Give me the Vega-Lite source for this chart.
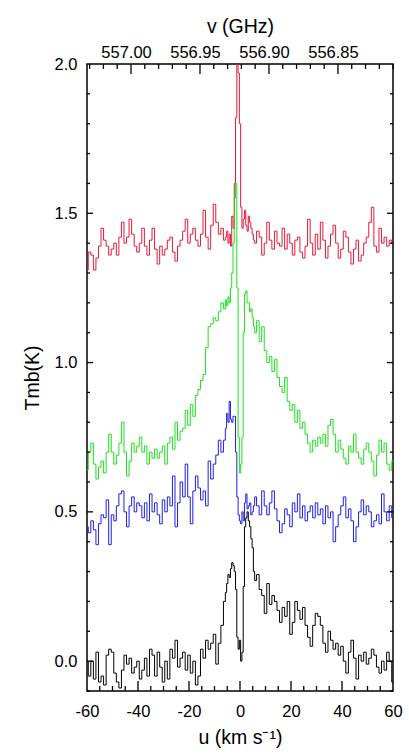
{
"$schema":"https://vega.github.io/schema/vega-lite/v6.json",
"width":306,"height":627,
"autosize":{"type":"none"},
"padding":{"left":87,"top":64,"right":16,"bottom":64},
"background":"white",
"config":{"view":{"stroke":"black","strokeWidth":1.5},
"axis":{"labelFont":"Liberation Sans","titleFont":"Liberation Sans","labelFontSize":16.5,"titleFontSize":19.5,"titleFontWeight":"normal","labelColor":"black","titleColor":"black","ticks":false,"domain":false,"grid":false,"labelFlush":false,"labelOverlap":false}},
"datasets":{
"spec":[
{"v":-60,"r":1.31,"g":0.64,"b":0.45,"k":0.00},
{"v":-59,"r":1.37,"g":0.70,"b":0.43,"k":-0.05},
{"v":-58,"r":1.36,"g":0.73,"b":0.47,"k":0.00},
{"v":-57,"r":1.31,"g":0.66,"b":0.44,"k":-0.06},
{"v":-56,"r":1.35,"g":0.61,"b":0.39,"k":0.03},
{"v":-55,"r":1.39,"g":0.65,"b":0.46,"k":-0.07},
{"v":-54,"r":1.45,"g":0.67,"b":0.49,"k":-0.05},
{"v":-53,"r":1.41,"g":0.63,"b":0.48,"k":-0.08},
{"v":-52,"r":1.39,"g":0.70,"b":0.54,"k":0.02},
{"v":-51,"r":1.36,"g":0.76,"b":0.39,"k":0.04},
{"v":-50,"r":1.38,"g":0.70,"b":0.49,"k":0.03},
{"v":-49,"r":1.40,"g":0.66,"b":0.47,"k":-0.04},
{"v":-48,"r":1.36,"g":0.69,"b":0.52,"k":-0.07},
{"v":-47,"r":1.42,"g":0.73,"b":0.56,"k":-0.09},
{"v":-46,"r":1.47,"g":0.80,"b":0.57,"k":-0.03},
{"v":-45,"r":1.40,"g":0.70,"b":0.50,"k":0.02},
{"v":-44,"r":1.42,"g":0.62,"b":0.45,"k":-0.01},
{"v":-43,"r":1.48,"g":0.67,"b":0.52,"k":0.01},
{"v":-42,"r":1.43,"g":0.73,"b":0.55,"k":-0.04},
{"v":-41,"r":1.39,"g":0.70,"b":0.50,"k":-0.02},
{"v":-40,"r":1.37,"g":0.72,"b":0.53,"k":0.00},
{"v":-39,"r":1.40,"g":0.75,"b":0.52,"k":-0.06},
{"v":-38,"r":1.45,"g":0.70,"b":0.48,"k":-0.03},
{"v":-37,"r":1.39,"g":0.72,"b":0.53,"k":0.01},
{"v":-36,"r":1.36,"g":0.66,"b":0.47,"k":-0.05},
{"v":-35,"r":1.41,"g":0.70,"b":0.56,"k":0.04},
{"v":-34,"r":1.45,"g":0.68,"b":0.50,"k":0.02},
{"v":-33,"r":1.38,"g":0.71,"b":0.53,"k":-0.05},
{"v":-32,"r":1.33,"g":0.68,"b":0.49,"k":0.03},
{"v":-31,"r":1.39,"g":0.70,"b":0.46,"k":-0.02},
{"v":-30,"r":1.36,"g":0.72,"b":0.54,"k":-0.07},
{"v":-29,"r":1.38,"g":0.66,"b":0.50,"k":0.00},
{"v":-28,"r":1.41,"g":0.73,"b":0.55,"k":-0.06},
{"v":-27,"r":1.42,"g":0.75,"b":0.52,"k":0.04},
{"v":-26,"r":1.37,"g":0.71,"b":0.62,"k":0.01},
{"v":-25,"r":1.34,"g":0.80,"b":0.45,"k":0.07},
{"v":-24,"r":1.39,"g":0.74,"b":0.53,"k":-0.02},
{"v":-23,"r":1.41,"g":0.77,"b":0.60,"k":0.01},
{"v":-22,"r":1.44,"g":0.78,"b":0.55,"k":0.03},
{"v":-21,"r":1.48,"g":0.84,"b":0.66,"k":-0.03},
{"v":-20,"r":1.40,"g":0.79,"b":0.55,"k":0.02},
{"v":-19,"r":1.43,"g":0.86,"b":0.46,"k":-0.04},
{"v":-18,"r":1.45,"g":0.82,"b":0.57,"k":0.00},
{"v":-17,"r":1.41,"g":0.89,"b":0.62,"k":-0.08},
{"v":-16,"r":1.39,"g":0.91,"b":0.58,"k":-0.05},
{"v":-15,"r":1.43,"g":0.94,"b":0.54,"k":0.04},
{"v":-14,"r":1.51,"g":0.96,"b":0.57,"k":0.01},
{"v":-13,"r":1.42,"g":1.05,"b":0.52,"k":0.07},
{"v":-12,"r":1.38,"g":1.12,"b":0.67,"k":0.04},
{"v":-11,"r":1.46,"g":1.13,"b":0.61,"k":0.06},
{"v":-10,"r":1.53,"g":1.15,"b":0.66,"k":0.09},
{"v":-9,"r":1.47,"g":1.14,"b":0.69,"k":-0.01},
{"v":-8,"r":1.43,"g":1.17,"b":0.74,"k":0.06},
{"v":-7,"r":1.45,"g":1.20,"b":0.70,"k":0.12},
{"v":-6,"r":1.41,"g":1.18,"b":0.74,"k":0.20},
{"v":-5.5,"r":1.42,"g":1.21,"b":0.78,"k":0.23},
{"v":-5,"r":1.44,"g":1.19,"b":0.83,"k":0.26},
{"v":-4.5,"r":1.40,"g":1.22,"b":0.80,"k":0.29},
{"v":-4,"r":1.43,"g":1.20,"b":0.87,"k":0.28},
{"v":-3.5,"r":1.39,"g":1.25,"b":0.81,"k":0.31},
{"v":-3,"r":1.49,"g":1.30,"b":0.80,"k":0.33},
{"v":-2.5,"r":1.45,"g":1.40,"b":0.82,"k":0.32},
{"v":-2,"r":1.60,"g":1.55,"b":0.82,"k":0.30},
{"v":-1.5,"r":1.82,"g":1.60,"b":0.70,"k":0.24},
{"v":-1,"r":2.00,"g":1.25,"b":0.55,"k":0.08},
{"v":-0.5,"r":1.97,"g":0.75,"b":0.49,"k":0.04},
{"v":0,"r":1.80,"g":0.63,"b":0.47,"k":0.07},
{"v":0.5,"r":1.52,"g":0.66,"b":0.46,"k":0.00},
{"v":1,"r":1.45,"g":0.75,"b":0.50,"k":0.03},
{"v":1.5,"r":1.48,"g":1.10,"b":0.47,"k":0.25},
{"v":2,"r":1.51,"g":1.23,"b":0.53,"k":0.45},
{"v":2.5,"r":1.46,"g":1.24,"b":0.56,"k":0.48},
{"v":3,"r":1.44,"g":1.20,"b":0.51,"k":0.50},
{"v":3.5,"r":1.49,"g":1.20,"b":0.52,"k":0.47},
{"v":4,"r":1.47,"g":1.17,"b":0.53,"k":0.45},
{"v":4.5,"r":1.45,"g":1.18,"b":0.49,"k":0.41},
{"v":5,"r":1.43,"g":1.15,"b":0.50,"k":0.38},
{"v":5.5,"r":1.41,"g":1.12,"b":0.52,"k":0.30},
{"v":6,"r":1.40,"g":1.10,"b":0.55,"k":0.27},
{"v":7,"r":1.44,"g":1.14,"b":0.52,"k":0.29},
{"v":8,"r":1.42,"g":1.07,"b":0.49,"k":0.24},
{"v":9,"r":1.36,"g":1.12,"b":0.57,"k":0.22},
{"v":10,"r":1.40,"g":1.04,"b":0.52,"k":0.16},
{"v":11,"r":1.47,"g":1.00,"b":0.49,"k":0.26},
{"v":12,"r":1.41,"g":1.02,"b":0.53,"k":0.19},
{"v":13,"r":1.38,"g":0.97,"b":0.57,"k":0.22},
{"v":14,"r":1.44,"g":1.01,"b":0.51,"k":0.20},
{"v":15,"r":1.40,"g":0.95,"b":0.47,"k":0.17},
{"v":16,"r":1.39,"g":0.92,"b":0.43,"k":0.13},
{"v":17,"r":1.45,"g":0.90,"b":0.46,"k":0.18},
{"v":18,"r":1.38,"g":0.95,"b":0.51,"k":0.15},
{"v":19,"r":1.43,"g":0.87,"b":0.49,"k":0.20},
{"v":20,"r":1.40,"g":0.84,"b":0.45,"k":0.09},
{"v":21,"r":1.36,"g":0.86,"b":0.53,"k":0.13},
{"v":22,"r":1.41,"g":0.80,"b":0.50,"k":0.20},
{"v":23,"r":1.42,"g":0.84,"b":0.56,"k":0.17},
{"v":24,"r":1.37,"g":0.78,"b":0.48,"k":0.14},
{"v":25,"r":1.35,"g":0.80,"b":0.52,"k":0.18},
{"v":26,"r":1.39,"g":0.76,"b":0.47,"k":0.12},
{"v":27,"r":1.48,"g":0.73,"b":0.50,"k":0.08},
{"v":28,"r":1.40,"g":0.70,"b":0.52,"k":0.05},
{"v":29,"r":1.36,"g":0.74,"b":0.48,"k":0.12},
{"v":30,"r":1.43,"g":0.72,"b":0.53,"k":0.16},
{"v":31,"r":1.38,"g":0.75,"b":0.49,"k":0.15},
{"v":32,"r":1.47,"g":0.73,"b":0.51,"k":0.12},
{"v":33,"r":1.41,"g":0.76,"b":0.46,"k":0.06},
{"v":34,"r":1.35,"g":0.72,"b":0.52,"k":0.03},
{"v":35,"r":1.39,"g":0.79,"b":0.48,"k":0.10},
{"v":36,"r":1.43,"g":0.81,"b":0.50,"k":0.07},
{"v":37,"r":1.46,"g":0.76,"b":0.40,"k":0.04},
{"v":38,"r":1.40,"g":0.70,"b":0.45,"k":0.06},
{"v":39,"r":1.35,"g":0.74,"b":0.49,"k":0.02},
{"v":40,"r":1.38,"g":0.71,"b":0.52,"k":0.05},
{"v":41,"r":1.44,"g":0.68,"b":0.55,"k":0.00},
{"v":42,"r":1.42,"g":0.66,"b":0.48,"k":-0.04},
{"v":43,"r":1.37,"g":0.72,"b":0.51,"k":0.03},
{"v":44,"r":1.33,"g":0.70,"b":0.47,"k":0.07},
{"v":45,"r":1.38,"g":0.76,"b":0.40,"k":0.01},
{"v":46,"r":1.41,"g":0.70,"b":0.45,"k":-0.06},
{"v":47,"r":1.34,"g":0.68,"b":0.50,"k":0.02},
{"v":48,"r":1.36,"g":0.66,"b":0.54,"k":0.00},
{"v":49,"r":1.40,"g":0.71,"b":0.49,"k":0.03},
{"v":50,"r":1.42,"g":0.73,"b":0.52,"k":-0.01},
{"v":51,"r":1.47,"g":0.70,"b":0.50,"k":0.01},
{"v":52,"r":1.52,"g":0.67,"b":0.45,"k":0.04},
{"v":53,"r":1.39,"g":0.62,"b":0.47,"k":0.02},
{"v":54,"r":1.37,"g":0.69,"b":0.49,"k":-0.02},
{"v":55,"r":1.45,"g":0.74,"b":0.46,"k":-0.04},
{"v":56,"r":1.40,"g":0.70,"b":0.56,"k":0.00},
{"v":57,"r":1.42,"g":0.73,"b":0.50,"k":-0.03},
{"v":58,"r":1.39,"g":0.66,"b":0.47,"k":0.03},
{"v":59,"r":1.41,"g":0.64,"b":0.52,"k":0.00},
{"v":60,"r":1.40,"g":0.67,"b":0.48,"k":-0.07}
],
"faxis":[{"f":557.0319,"T":-0.1},{"f":556.8101,"T":2.0}],
"vmajor":[{"v":-40},{"v":-20},{"v":0},{"v":20},{"v":40}],
"vminor":[{"v":-55},{"v":-50},{"v":-45},{"v":-35},{"v":-30},{"v":-25},{"v":-15},{"v":-10},{"v":-5},{"v":5},{"v":10},{"v":15},{"v":25},{"v":30},{"v":35},{"v":45},{"v":50},{"v":55}],
"fmajor":[{"f":557.0},{"f":556.95},{"f":556.9},{"f":556.85}],
"fminor":[{"f":557.03},{"f":557.02},{"f":557.01},{"f":556.99},{"f":556.98},{"f":556.97},{"f":556.96},{"f":556.94},{"f":556.93},{"f":556.92},{"f":556.91},{"f":556.89},{"f":556.88},{"f":556.87},{"f":556.86},{"f":556.84},{"f":556.83},{"f":556.82},{"f":556.81}],
"tmajor":[{"T":0},{"T":0.5},{"T":1.0},{"T":1.5}],
"tminor":[{"T":-0.1},{"T":0.1},{"T":0.2},{"T":0.3},{"T":0.4},{"T":0.6},{"T":0.7},{"T":0.8},{"T":0.9},{"T":1.1},{"T":1.2},{"T":1.3},{"T":1.4},{"T":1.6},{"T":1.7},{"T":1.8},{"T":1.9}]
},
"layer":[
{
"data":{"name":"spec"},
"transform":[{"fold":["r","g","b","k"],"as":["s","T"]}],
"mark":{"type":"line","interpolate":"step","strokeWidth":1},
"encoding":{
"x":{"field":"v","type":"quantitative","scale":{"domain":[-60,60],"nice":false,"zero":false},
"axis":{"orient":"bottom","title":"u (km s⁻¹)","values":[-60,-40,-20,0,20,40,60],
"labelExpr":"'' + datum.value","labelPadding":12,"titlePadding":9}},
"y":{"field":"T","type":"quantitative","scale":{"domain":[-0.1,2.0],"nice":false,"zero":false},
"axis":{"orient":"left","title":"Tmb(K)","values":[0,0.5,1,1.5,2],
"labelExpr":"format(datum.value, '.1f')","labelPadding":10,"titlePadding":12}},
"color":{"field":"s","type":"nominal","scale":{"domain":["r","g","b","k"],"range":["#e8183a","#1ee01e","#1f1fe6","#000000"]},"legend":null}
}
},
{
"data":{"name":"faxis"},
"mark":{"type":"point","opacity":0},
"encoding":{
"x":{"field":"f","type":"quantitative","scale":{"domain":[556.8101,557.0319],"reverse":true,"nice":false,"zero":false},
"axis":{"orient":"top","title":"v (GHz)","values":[557.0,556.95,556.9,556.85],
"labelExpr":"format(datum.value, '.2f')","labelPadding":4,"labelOffset":-5,"titlePadding":8}},
"y":{"field":"T","type":"quantitative","scale":{"domain":[-0.1,2.0],"nice":false,"zero":false},"axis":null}
}
},
{
"data":{"name":"vmajor"},
"mark":{"type":"rule","color":"black","strokeWidth":1.3},
"encoding":{
"x":{"field":"v","type":"quantitative","scale":{"domain":[-60,60],"nice":false,"zero":false},"axis":null},
"y":{"datum":-0.1,"type":"quantitative","axis":null},
"y2":{"datum":-0.0665}
}
},
{
"data":{"name":"vminor"},
"mark":{"type":"rule","color":"black","strokeWidth":1.3},
"encoding":{
"x":{"field":"v","type":"quantitative","scale":{"domain":[-60,60],"nice":false,"zero":false},"axis":null},
"y":{"datum":-0.1,"type":"quantitative","axis":null},
"y2":{"datum":-0.0833}
}
},
{
"data":{"name":"fmajor"},
"mark":{"type":"rule","color":"black","strokeWidth":1.3},
"encoding":{
"x":{"field":"f","type":"quantitative","scale":{"domain":[556.8101,557.0319],"reverse":true,"nice":false,"zero":false},"axis":null},
"y":{"datum":2.0,"type":"quantitative","axis":null},
"y2":{"datum":1.9665}
}
},
{
"data":{"name":"fminor"},
"mark":{"type":"rule","color":"black","strokeWidth":1.3},
"encoding":{
"x":{"field":"f","type":"quantitative","scale":{"domain":[556.8101,557.0319],"reverse":true,"nice":false,"zero":false},"axis":null},
"y":{"datum":2.0,"type":"quantitative","axis":null},
"y2":{"datum":1.9833}
}
},
{
"data":{"name":"tmajor"},
"mark":{"type":"rule","color":"black","strokeWidth":1.3},
"encoding":{
"y":{"field":"T","type":"quantitative","axis":null},
"x":{"datum":-60,"type":"quantitative","scale":{"domain":[-60,60],"nice":false,"zero":false},"axis":null},
"x2":{"datum":-57.65}
}
},
{
"data":{"name":"tminor"},
"mark":{"type":"rule","color":"black","strokeWidth":1.3},
"encoding":{
"y":{"field":"T","type":"quantitative","axis":null},
"x":{"datum":-60,"type":"quantitative","scale":{"domain":[-60,60],"nice":false,"zero":false},"axis":null},
"x2":{"datum":-58.82}
}
},
{
"data":{"name":"tmajor"},
"mark":{"type":"rule","color":"black","strokeWidth":1.3},
"encoding":{
"y":{"field":"T","type":"quantitative","axis":null},
"x":{"datum":60,"type":"quantitative","scale":{"domain":[-60,60],"nice":false,"zero":false},"axis":null},
"x2":{"datum":57.65}
}
},
{
"data":{"name":"tminor"},
"mark":{"type":"rule","color":"black","strokeWidth":1.3},
"encoding":{
"y":{"field":"T","type":"quantitative","axis":null},
"x":{"datum":60,"type":"quantitative","scale":{"domain":[-60,60],"nice":false,"zero":false},"axis":null},
"x2":{"datum":58.82}
}
}
],
"resolve":{"scale":{"x":"independent"},"axis":{"x":"independent","y":"independent"}}
}
